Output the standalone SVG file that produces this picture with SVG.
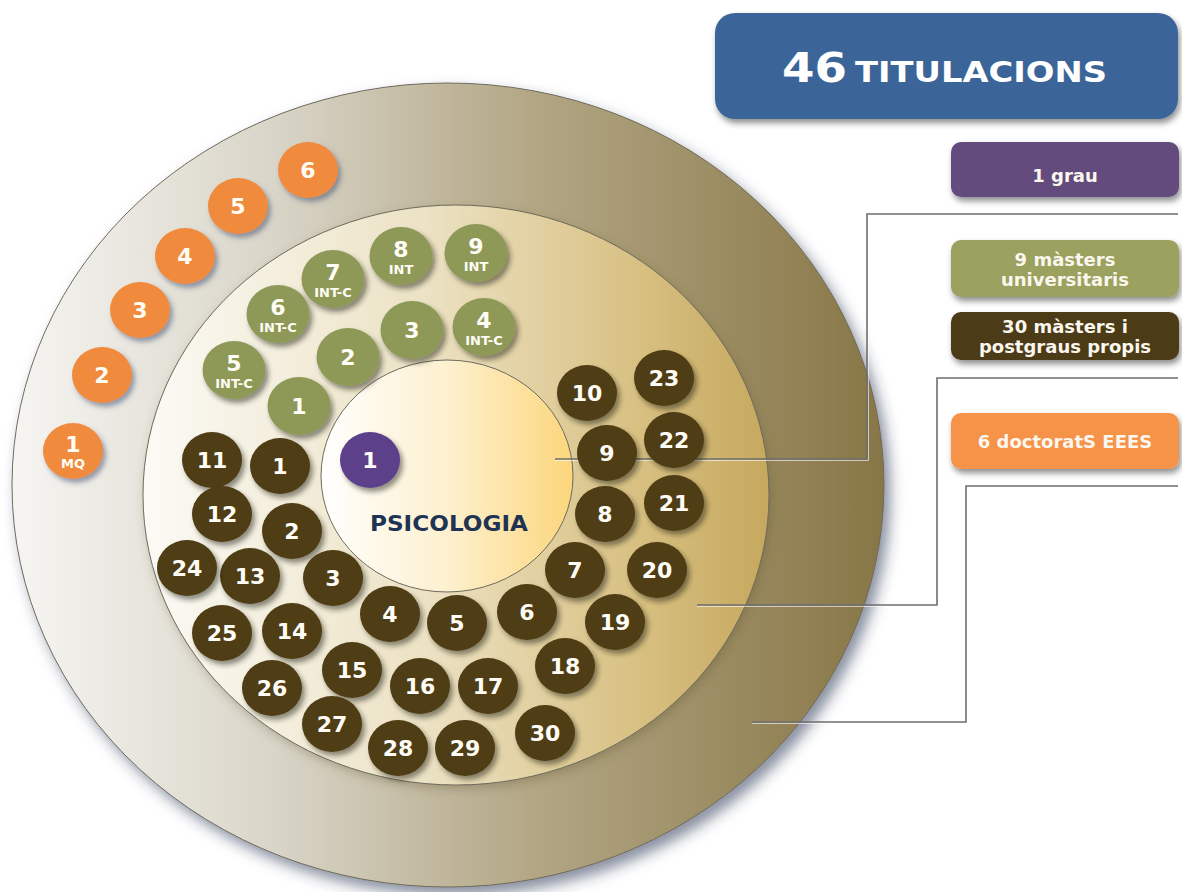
<svg xmlns="http://www.w3.org/2000/svg" width="1182" height="892" viewBox="0 0 1182 892">
<defs>
<linearGradient id="gOuter" x1="0" y1="0" x2="1" y2="0">
<stop offset="0" stop-color="#f6f5f2"/>
<stop offset="0.3" stop-color="#d9d5c8"/>
<stop offset="0.6" stop-color="#b2a684"/>
<stop offset="1" stop-color="#877646"/>
</linearGradient>
<linearGradient id="gMid" x1="0" y1="0" x2="1" y2="0">
<stop offset="0" stop-color="#fbfaf5"/>
<stop offset="0.45" stop-color="#ece2c4"/>
<stop offset="0.8" stop-color="#d7bf80"/>
<stop offset="1" stop-color="#c6a85e"/>
</linearGradient>
<linearGradient id="gInner" x1="0" y1="0" x2="1" y2="0">
<stop offset="0" stop-color="#ffffff"/>
<stop offset="0.5" stop-color="#fdf0cf"/>
<stop offset="1" stop-color="#fcd67c"/>
</linearGradient>
<filter id="shBig" x="-10%" y="-10%" width="130%" height="130%">
<feDropShadow dx="6" dy="8" stdDeviation="7" flood-color="#2a3552" flood-opacity="0.55"/>
</filter>
<filter id="shMid" x="-10%" y="-10%" width="130%" height="130%">
<feDropShadow dx="2" dy="4" stdDeviation="5" flood-color="#5a5030" flood-opacity="0.3"/>
</filter>
<filter id="shSm" x="-30%" y="-30%" width="170%" height="170%">
<feDropShadow dx="3" dy="4" stdDeviation="2.5" flood-color="#1c1c10" flood-opacity="0.5"/>
</filter>
<filter id="shOr" x="-30%" y="-30%" width="170%" height="170%">
<feDropShadow dx="3" dy="4" stdDeviation="2.5" flood-color="#3a4a6a" flood-opacity="0.5"/>
</filter>
<filter id="shBox" x="-10%" y="-20%" width="125%" height="160%">
<feDropShadow dx="2" dy="4" stdDeviation="3" flood-color="#000" flood-opacity="0.45"/>
</filter>
</defs>
<style>
.ring{stroke:#6d6a5c;stroke-width:1}
.dk{fill:#4f3c13;filter:url(#shSm)}
.gr{fill:#8e9958;filter:url(#shSm)}
.or{fill:#f08a3e;filter:url(#shOr)}
.pu{fill:#5c408a;filter:url(#shSm)}
.n{font-family:"DejaVu Sans","Liberation Sans",sans-serif;font-weight:bold;font-size:22px;fill:#fffdf6;text-anchor:middle}
.s{font-family:"DejaVu Sans","Liberation Sans",sans-serif;font-weight:bold;font-size:13px;fill:#fffdf6;text-anchor:middle}
.lg{font-family:"DejaVu Sans","Liberation Sans",sans-serif;font-weight:bold;font-size:18px;fill:#fbf7ee;text-anchor:middle}
.conn{fill:none;stroke:#6f6f6f;stroke-width:1.6}
.connh{fill:none;stroke:#ffffff;stroke-width:1;opacity:0.6}
</style>

<g id="rings">
<ellipse cx="448" cy="485" rx="436" ry="402" fill="url(#gOuter)" class="ring" filter="url(#shBig)"/>
<ellipse cx="456" cy="495" rx="313" ry="290" fill="url(#gMid)" class="ring" filter="url(#shMid)"/>
<ellipse cx="447" cy="476" rx="126" ry="116" fill="url(#gInner)" class="ring"/>
<text x="449" y="531" font-family="'DejaVu Sans','Liberation Sans',sans-serif" font-weight="bold" font-size="21" fill="#1f3452" text-anchor="middle" textLength="158" lengthAdjust="spacingAndGlyphs">PSICOLOGIA</text>
</g>

<g id="connectors">
<polyline class="connh" points="555,460.5 868.5,460.5 868.5,215.5 1178,215.5"/>
<polyline class="conn" points="555,459 867,459 867,214 1178,214"/>
<polyline class="connh" points="697,606.5 938.5,606.5 938.5,379.5 1178,379.5"/>
<polyline class="conn" points="697,605 937,605 937,378 1178,378"/>
<polyline class="connh" points="752,723.5 967.5,723.5 967.5,487.5 1178,487.5"/>
<polyline class="conn" points="752,722 966,722 966,486 1178,486"/>
</g>

<g id="grau-1"><ellipse class="pu" cx="370" cy="460" rx="30" ry="28"/><text class="n" x="370" y="468">1</text></g>

<g id="doc-1"><ellipse class="or" cx="73" cy="451" rx="30" ry="28"/><text class="n" x="73" y="452">1</text><text class="s" x="73" y="468" font-size="11.5">MQ</text></g>
<g id="doc-2"><ellipse class="or" cx="102" cy="375" rx="30" ry="28"/><text class="n" x="102" y="383">2</text></g>
<g id="doc-3"><ellipse class="or" cx="140" cy="310" rx="30" ry="28"/><text class="n" x="140" y="318">3</text></g>
<g id="doc-4"><ellipse class="or" cx="185" cy="256" rx="30" ry="28"/><text class="n" x="185" y="264">4</text></g>
<g id="doc-5"><ellipse class="or" cx="238" cy="206" rx="30" ry="28"/><text class="n" x="238" y="214">5</text></g>
<g id="doc-6"><ellipse class="or" cx="308" cy="170" rx="30" ry="28"/><text class="n" x="308" y="178">6</text></g>

<g id="mu-1"><ellipse class="gr" cx="299" cy="406" rx="31.5" ry="29"/><text class="n" x="299" y="414">1</text></g>
<g id="mu-2"><ellipse class="gr" cx="348" cy="357" rx="31.5" ry="29"/><text class="n" x="348" y="365">2</text></g>
<g id="mu-3"><ellipse class="gr" cx="412" cy="330" rx="31.5" ry="29"/><text class="n" x="412" y="338">3</text></g>
<g id="mu-4"><ellipse class="gr" cx="484" cy="327" rx="31.5" ry="29"/><text class="n" x="484" y="328">4</text><text class="s" x="484" y="345">INT-C</text></g>
<g id="mu-5"><ellipse class="gr" cx="234" cy="370" rx="31.5" ry="29"/><text class="n" x="234" y="371">5</text><text class="s" x="234" y="388">INT-C</text></g>
<g id="mu-6"><ellipse class="gr" cx="278" cy="314" rx="31.5" ry="29"/><text class="n" x="278" y="315">6</text><text class="s" x="278" y="332">INT-C</text></g>
<g id="mu-7"><ellipse class="gr" cx="333" cy="279" rx="31.5" ry="29"/><text class="n" x="333" y="280">7</text><text class="s" x="333" y="297">INT-C</text></g>
<g id="mu-8"><ellipse class="gr" cx="401" cy="256" rx="31.5" ry="29"/><text class="n" x="401" y="257">8</text><text class="s" x="401" y="274">INT</text></g>
<g id="mu-9"><ellipse class="gr" cx="476" cy="253" rx="31.5" ry="29"/><text class="n" x="476" y="254">9</text><text class="s" x="476" y="271">INT</text></g>

<g id="mp-1"><ellipse class="dk" cx="280" cy="466" rx="30" ry="28"/><text class="n" x="280" y="474">1</text></g>
<g id="mp-2"><ellipse class="dk" cx="292" cy="531" rx="30" ry="28"/><text class="n" x="292" y="539">2</text></g>
<g id="mp-3"><ellipse class="dk" cx="333" cy="578" rx="30" ry="28"/><text class="n" x="333" y="586">3</text></g>
<g id="mp-4"><ellipse class="dk" cx="390" cy="614" rx="30" ry="28"/><text class="n" x="390" y="622">4</text></g>
<g id="mp-5"><ellipse class="dk" cx="457" cy="623" rx="30" ry="28"/><text class="n" x="457" y="631">5</text></g>
<g id="mp-6"><ellipse class="dk" cx="527" cy="612" rx="30" ry="28"/><text class="n" x="527" y="620">6</text></g>
<g id="mp-7"><ellipse class="dk" cx="575" cy="570" rx="30" ry="28"/><text class="n" x="575" y="578">7</text></g>
<g id="mp-8"><ellipse class="dk" cx="605" cy="514" rx="30" ry="28"/><text class="n" x="605" y="522">8</text></g>
<g id="mp-9"><ellipse class="dk" cx="607" cy="453" rx="30" ry="28"/><text class="n" x="607" y="461">9</text></g>
<g id="mp-10"><ellipse class="dk" cx="587" cy="393" rx="30" ry="28"/><text class="n" x="587" y="401">10</text></g>
<g id="mp-11"><ellipse class="dk" cx="212" cy="460" rx="30" ry="28"/><text class="n" x="212" y="468">11</text></g>
<g id="mp-12"><ellipse class="dk" cx="222" cy="514" rx="30" ry="28"/><text class="n" x="222" y="522">12</text></g>
<g id="mp-13"><ellipse class="dk" cx="250" cy="576" rx="30" ry="28"/><text class="n" x="250" y="584">13</text></g>
<g id="mp-14"><ellipse class="dk" cx="292" cy="631" rx="30" ry="28"/><text class="n" x="292" y="639">14</text></g>
<g id="mp-15"><ellipse class="dk" cx="352" cy="670" rx="30" ry="28"/><text class="n" x="352" y="678">15</text></g>
<g id="mp-16"><ellipse class="dk" cx="420" cy="686" rx="30" ry="28"/><text class="n" x="420" y="694">16</text></g>
<g id="mp-17"><ellipse class="dk" cx="488" cy="686" rx="30" ry="28"/><text class="n" x="488" y="694">17</text></g>
<g id="mp-18"><ellipse class="dk" cx="565" cy="666" rx="30" ry="28"/><text class="n" x="565" y="674">18</text></g>
<g id="mp-19"><ellipse class="dk" cx="615" cy="622" rx="30" ry="28"/><text class="n" x="615" y="630">19</text></g>
<g id="mp-20"><ellipse class="dk" cx="657" cy="570" rx="30" ry="28"/><text class="n" x="657" y="578">20</text></g>
<g id="mp-21"><ellipse class="dk" cx="674" cy="503" rx="30" ry="28"/><text class="n" x="674" y="511">21</text></g>
<g id="mp-22"><ellipse class="dk" cx="674" cy="440" rx="30" ry="28"/><text class="n" x="674" y="448">22</text></g>
<g id="mp-23"><ellipse class="dk" cx="664" cy="378" rx="30" ry="28"/><text class="n" x="664" y="386">23</text></g>
<g id="mp-24"><ellipse class="dk" cx="187" cy="568" rx="30" ry="28"/><text class="n" x="187" y="576">24</text></g>
<g id="mp-25"><ellipse class="dk" cx="222" cy="633" rx="30" ry="28"/><text class="n" x="222" y="641">25</text></g>
<g id="mp-26"><ellipse class="dk" cx="272" cy="688" rx="30" ry="28"/><text class="n" x="272" y="696">26</text></g>
<g id="mp-27"><ellipse class="dk" cx="332" cy="724" rx="30" ry="28"/><text class="n" x="332" y="732">27</text></g>
<g id="mp-28"><ellipse class="dk" cx="398" cy="748" rx="30" ry="28"/><text class="n" x="398" y="756">28</text></g>
<g id="mp-29"><ellipse class="dk" cx="465" cy="748" rx="30" ry="28"/><text class="n" x="465" y="756">29</text></g>
<g id="mp-30"><ellipse class="dk" cx="545" cy="733" rx="30" ry="28"/><text class="n" x="545" y="741">30</text></g>

<g id="title">
<rect x="715" y="13" width="463" height="106" rx="20" fill="#3b6598" filter="url(#shBox)"/>
<text x="782" y="82" font-family="'DejaVu Sans','Liberation Sans',sans-serif" font-weight="bold" font-size="40" fill="#ffffff" textLength="65" lengthAdjust="spacingAndGlyphs">46</text>
<text x="855" y="82" font-family="'DejaVu Sans','Liberation Sans',sans-serif" font-weight="bold" font-size="29" fill="#ffffff" textLength="252" lengthAdjust="spacingAndGlyphs">TITULACIONS</text>
</g>

<g id="legend-grau">
<rect x="951" y="142" width="228" height="55" rx="10" fill="#634b7e" filter="url(#shBox)"/>
<text class="lg" x="1065" y="182">1 grau</text>
</g>
<g id="legend-masters-univ">
<rect x="951" y="240" width="228" height="57" rx="10" fill="#9ba15e" filter="url(#shBox)"/>
<text class="lg" x="1065" y="266">9 màsters</text>
<text class="lg" x="1065" y="286">universitaris</text>
</g>
<g id="legend-masters-propis">
<rect x="951" y="312" width="228" height="48" rx="10" fill="#4c3b17" filter="url(#shBox)"/>
<text class="lg" x="1065" y="333">30 màsters i</text>
<text class="lg" x="1065" y="353">postgraus propis</text>
</g>
<g id="legend-doctorats">
<rect x="951" y="413" width="228" height="56" rx="10" fill="#f5934a" filter="url(#shBox)"/>
<text class="lg" x="1065" y="448">6 doctoratS EEES</text>
</g>
</svg>
